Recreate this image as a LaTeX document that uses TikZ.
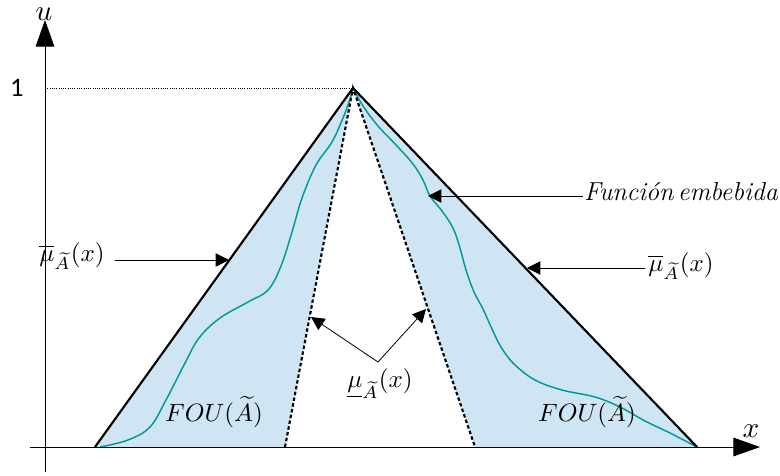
\documentclass[tikz,border=0pt]{standalone}
\usepackage{amsmath}
\usepackage{fontspec}
\newfontfamily\carl{Carlito}
\usetikzlibrary{arrows.meta}
\definecolor{foufill}{RGB}{207,229,243}
\definecolor{embed}{RGB}{0,153,153}
\newcommand{\lblscale}[1]{\scalebox{1.88}{#1}}
\begin{document}
\begin{tikzpicture}[x=0.75pt,y=-0.75pt,
  tri/.style={line width=1.6pt, line join=round},
  innerline/.style={line width=1.6pt, dash pattern=on 2.6pt off 1.8pt},
  axisline/.style={line width=0.7pt, -{Triangle[length=20pt,width=14pt]}},
  lbl/.style={inner sep=1pt},
  callout/.style={line width=0.6pt, -{Triangle[length=10pt,width=10pt]}},
  embedcurve/.style={embed, line width=1.1pt}
]
\useasboundingbox (0,0) rectangle (780,475);
% key points
\coordinate (apex) at (353,88);
\coordinate (bl) at (95,447);
\coordinate (br) at (697,447);
\coordinate (il) at (285,447);
\coordinate (ir) at (475,447);
\coordinate (one) at (45,88);
% FOU fill
\fill[foufill] (bl) -- (apex) -- (il) -- cycle;
\fill[foufill] (apex) -- (br) -- (ir) -- cycle;
% embedded functions
\draw[embedcurve] plot[smooth, tension=0.6] coordinates {(100,447) (128,440) (150,427) (166,400) (184,365) (199,338) (220,318) (248,302) (268,290) (281,266) (292,232) (302,198) (316,165) (332,142) (343,118) (350,99) (353,88)};
\draw[embedcurve] plot[smooth, tension=0.6] coordinates {(353,88) (363,106) (378,126) (397,146) (413,164) (423,180) (430,196) (442,211) (453,228) (460,248) (466,270) (474,292) (483,309) (492,329) (501,347) (514,364) (535,380) (562,390) (595,397) (620,407) (645,421) (670,433) (697,447)};
% inner (lower) membership
\draw[innerline] (il) -- (apex) -- (ir);
% outer (upper) membership
\draw[tri] (bl) -- (apex) -- (br);
% dotted level 1
\draw[densely dotted, line width=0.7pt] (one) -- (apex);
% axes
\coordinate (yb) at (45,472);
\coordinate (yt) at (45,20);
\coordinate (xb) at (30,447);
\coordinate (xt) at (760,447);
\draw[axisline] (yb) -- (yt);
\draw[axisline] (xb) -- (xt);
\node[inner sep=0pt] (ulab) at (44,14) {\scalebox{2.2}{$u$}};
\node[inner sep=0pt] (xlab) at (751,431) {\scalebox{2.2}{$x$}};
\node[font=\fontsize{20}{22}\selectfont\carl] (onelab) at (17,88) {1};
% labels
\node[lbl] (lu) at (72,256) {\lblscale{$\overline{\mu}_{\widetilde{A}}(x)$}};
\coordinate (lutip) at (229,260);
\draw[callout] (115,260) -- (lutip);
\node[lbl] (ru) at (681,266) {\lblscale{$\overline{\mu}_{\widetilde{A}}(x)$}};
\coordinate (rutip) at (527,268);
\draw[callout] (645,268) -- (rutip);
\node[font=\fontsize{19.5}{22}\selectfont\itshape, inner sep=2pt] (emb) at (681,192) {Función\,embebida};
\coordinate (embtip) at (428,196);
\draw[callout] (583,196) -- (embtip);
\node[lbl] (lo) at (380,384) {\lblscale{$\underline{\mu}_{\widetilde{A}}(x)$}};
\coordinate (lj) at (378,362);
\coordinate (lL) at (311,317);
\coordinate (lR) at (426,309);
\draw[callout] (lj) -- (lL);
\draw[callout] (lj) -- (lR);
\node[lbl] (fouL) at (214,412) {\lblscale{$FOU(\widetilde{A})$}};
\node[lbl] (fouR) at (587,412) {\lblscale{$FOU(\widetilde{A})$}};
\end{tikzpicture}
\end{document}
